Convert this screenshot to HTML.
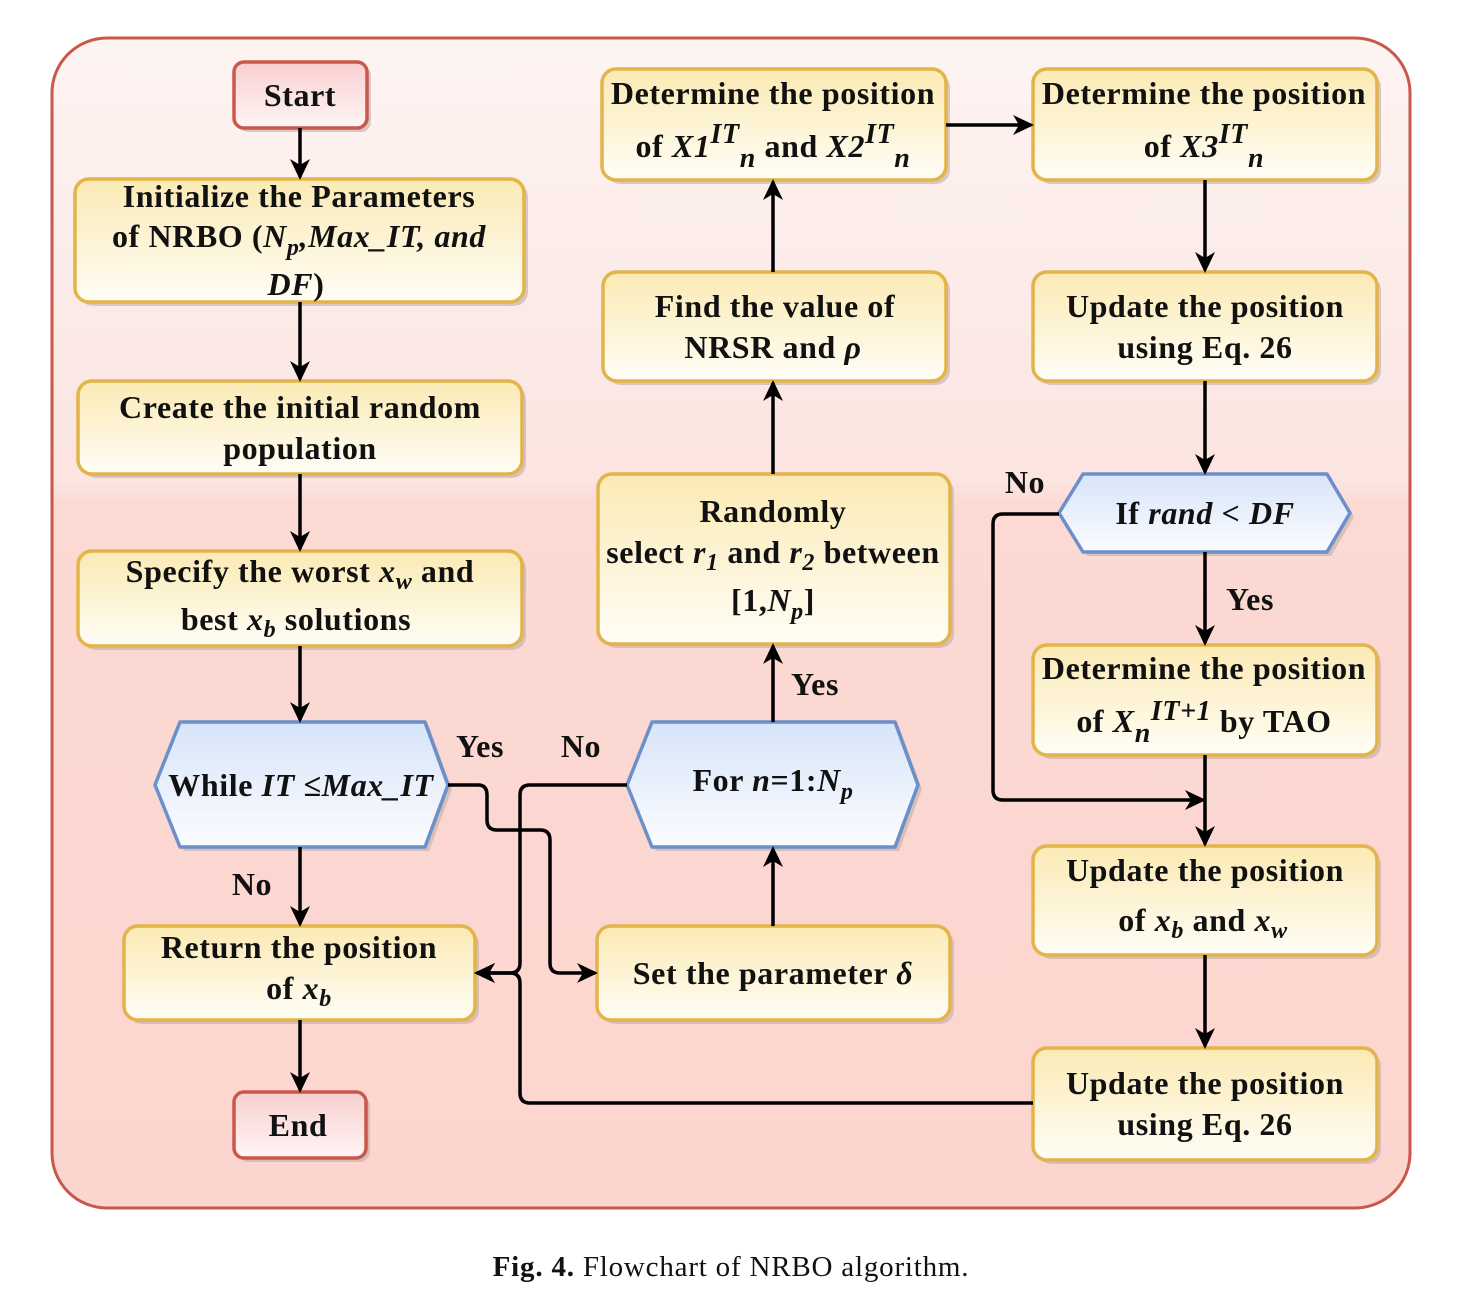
<!DOCTYPE html>
<html><head><meta charset="utf-8"><style>
html,body{margin:0;padding:0;background:#fff}
svg{display:block}
text{font-family:"Liberation Serif",serif;font-weight:bold;font-size:32px;letter-spacing:0.6px;fill:#111}
.i{font-style:italic}
</style></head><body>
<svg width="1465" height="1289" viewBox="0 0 1465 1289" xmlns="http://www.w3.org/2000/svg">
<defs>
<linearGradient id="bg" x1="0" y1="0" x2="0" y2="1">
<stop offset="0" stop-color="#fdf4f2"/><stop offset="0.38" stop-color="#fce4e0"/><stop offset="0.4" stop-color="#fcd9d3"/><stop offset="1" stop-color="#fdd5cf"/>
</linearGradient>
<linearGradient id="yl" x1="0" y1="0" x2="0" y2="1"><stop offset="0" stop-color="#fbeab4"/><stop offset="1" stop-color="#fffdf6"/></linearGradient>
<linearGradient id="bl" x1="0" y1="0" x2="0" y2="1"><stop offset="0" stop-color="#d7e4f9"/><stop offset="1" stop-color="#fbfcff"/></linearGradient>
<linearGradient id="rd" x1="0" y1="0" x2="0" y2="1"><stop offset="0" stop-color="#f8cfcf"/><stop offset="1" stop-color="#fff5f5"/></linearGradient>
<marker id="a" markerWidth="22" markerHeight="22" refX="18" refY="11" orient="auto" markerUnits="userSpaceOnUse" viewBox="0 0 22 22"><path d="M0,1 L21,11 L0,21 L6,11z" fill="#000"/></marker>
</defs>
<rect x="52" y="38" width="1358" height="1170" rx="55" fill="url(#bg)" stroke="#c9574c" stroke-width="3"/>
<g fill="#b9a9a4" opacity="0.55">
<rect x="238" y="66" width="133" height="66" rx="10"/><rect x="238" y="1096" width="132" height="66" rx="10"/>
<rect x="79" y="183" width="449" height="123" rx="14"/><rect x="82" y="385" width="444" height="93" rx="14"/><rect x="82" y="555" width="444" height="95" rx="14"/><rect x="128" y="930" width="351" height="94" rx="14"/>
<rect x="606" y="73" width="344" height="111" rx="14"/><rect x="607" y="276" width="343" height="109" rx="14"/><rect x="602" y="478" width="352" height="170" rx="14"/><rect x="601" y="930" width="353" height="94" rx="14"/>
<rect x="1037" y="73" width="344" height="111" rx="14"/><rect x="1037" y="276" width="344" height="109" rx="14"/><rect x="1037" y="649" width="344" height="110" rx="14"/><rect x="1037" y="850" width="344" height="109" rx="14"/><rect x="1037" y="1052" width="344" height="112" rx="14"/>
<path d="M184,726 L429,726 L452,789 L429,851 L184,851 L159,789Z"/><path d="M656,726 L899,726 L922,789 L899,851 L656,851 L631,789Z"/><path d="M1087,478 L1331,478 L1354,517 L1331,556 L1087,556 L1063,517Z"/>
</g>
<g stroke="#e2b44a" stroke-width="3.5" fill="url(#yl)">
<rect x="75" y="179" width="449" height="123" rx="14"/><rect x="78" y="381" width="444" height="93" rx="14"/><rect x="78" y="551" width="444" height="95" rx="14"/><rect x="124" y="926" width="351" height="94" rx="14"/>
<rect x="602" y="69" width="344" height="111" rx="14"/><rect x="603" y="272" width="343" height="109" rx="14"/><rect x="598" y="474" width="352" height="170" rx="14"/><rect x="597" y="926" width="353" height="94" rx="14"/>
<rect x="1033" y="69" width="344" height="111" rx="14"/><rect x="1033" y="272" width="344" height="109" rx="14"/><rect x="1033" y="645" width="344" height="110" rx="14"/><rect x="1033" y="846" width="344" height="109" rx="14"/><rect x="1033" y="1048" width="344" height="112" rx="14"/>
</g>
<g stroke="#c9574c" stroke-width="3.5" fill="url(#rd)">
<rect x="234" y="62" width="133" height="66" rx="10"/><rect x="234" y="1092" width="132" height="66" rx="10"/>
</g>
<g stroke="#6b8fc9" stroke-width="3.5" fill="url(#bl)" stroke-linejoin="round">
<path d="M180,722 L425,722 L448,785 L425,847 L180,847 L155,785Z"/>
<path d="M652,722 L895,722 L918,785 L895,847 L652,847 L627,785Z"/>
<path d="M1083,474 L1327,474 L1350,513 L1327,552 L1083,552 L1059,513Z"/>
</g>
<g stroke="#000" stroke-width="3.5" fill="none" marker-end="url(#a)" stroke-linejoin="round">
<path d="M300,128 V177"/><path d="M300,302 V379"/><path d="M300,474 V549"/><path d="M300,646 V720"/><path d="M300,847 V924"/><path d="M300,1020 V1090"/>
<path d="M773,926 V849"/><path d="M773,722 V646"/><path d="M773,474 V383"/><path d="M773,272 V182"/><path d="M946,125 H1031"/>
<path d="M1205,180 V270"/><path d="M1205,381 V472"/><path d="M1205,552 V643"/><path d="M1205,755 V844"/>
<path d="M1059,514 H1003 Q993,514 993,524 V790 Q993,800 1003,800 H1203"/>
<path d="M1205,955 V1046"/>
<path d="M1033,1103 H530 Q520,1103 520,1093 V983 Q520,973 510,973 H477"/>
<path d="M627,785 H530 Q520,785 520,795 V963 Q520,973 510,973 H477"/>
<path d="M448,785 H478 Q487,785 487,795 V820 Q487,830 497,830 H540 Q550,830 550,840 V963 Q550,973 560,973 H595"/>
</g>
<text x="300" y="106" text-anchor="middle">Start</text>
<text x="298" y="1136" text-anchor="middle">End</text>
<text x="299" y="207" text-anchor="middle">Initialize the Parameters</text>
<text x="299" y="247" text-anchor="middle">of NRBO (<tspan class="i">N<tspan dy="8" font-size="24">p</tspan><tspan dy="-8">,Max_IT, and</tspan></tspan></text>
<text x="296" y="295" text-anchor="middle"><tspan class="i">DF</tspan>)</text>
<text x="300" y="418" text-anchor="middle">Create the initial random</text>
<text x="300" y="459" text-anchor="middle">population</text>
<text x="300" y="582" text-anchor="middle">Specify the worst <tspan class="i">x<tspan dy="7" font-size="24">w</tspan></tspan><tspan dy="-7"> and</tspan></text>
<text x="296" y="630" text-anchor="middle">best <tspan class="i">x<tspan dy="7" font-size="24">b</tspan></tspan><tspan dy="-7"> solutions</tspan></text>
<text x="301" y="796" text-anchor="middle">While <tspan class="i">IT</tspan> ≤<tspan class="i">Max_IT</tspan></text>
<text x="299" y="958" text-anchor="middle">Return the position</text>
<text x="299" y="999" text-anchor="middle">of <tspan class="i">x<tspan dy="7" font-size="24">b</tspan></tspan></text>
<text x="773" y="104" text-anchor="middle">Determine the position</text>
<text x="773" y="157" text-anchor="middle">of <tspan class="i">X1<tspan dy="-14" font-size="28">IT</tspan><tspan dy="24" font-size="28">n</tspan></tspan><tspan dy="-10"> and </tspan><tspan class="i">X2<tspan dy="-14" font-size="28">IT</tspan><tspan dy="24" font-size="28">n</tspan></tspan></text>
<text x="775" y="317" text-anchor="middle">Find the value of</text>
<text x="773" y="358" text-anchor="middle">NRSR and <tspan class="i">ρ</tspan></text>
<text x="773" y="522" text-anchor="middle">Randomly</text>
<text x="773" y="563" text-anchor="middle">select <tspan class="i">r<tspan dy="7" font-size="24">1</tspan></tspan><tspan dy="-7"> and </tspan><tspan class="i">r<tspan dy="7" font-size="24">2</tspan></tspan><tspan dy="-7"> between</tspan></text>
<text x="773" y="611" text-anchor="middle">[1,<tspan class="i">N<tspan dy="8" font-size="24">p</tspan></tspan><tspan dy="-8">]</tspan></text>
<text x="773" y="791" text-anchor="middle">For <tspan class="i">n</tspan>=1:<tspan class="i">N<tspan dy="8" font-size="24">p</tspan></tspan></text>
<text x="773" y="984" text-anchor="middle">Set the parameter <tspan class="i">δ</tspan></text>
<text x="1204" y="104" text-anchor="middle">Determine the position</text>
<text x="1204" y="157" text-anchor="middle">of <tspan class="i">X3<tspan dy="-14" font-size="28">IT</tspan><tspan dy="24" font-size="28">n</tspan></tspan></text>
<text x="1205" y="317" text-anchor="middle">Update the position</text>
<text x="1205" y="358" text-anchor="middle">using Eq. 26</text>
<text x="1205" y="524" text-anchor="middle">If <tspan class="i">rand</tspan> &lt; <tspan class="i">DF</tspan></text>
<text x="1204" y="679" text-anchor="middle">Determine the position</text>
<text x="1204" y="732" text-anchor="middle">of <tspan class="i">X<tspan dy="10" font-size="28">n</tspan><tspan dy="-22" font-size="28">IT+1</tspan></tspan><tspan dy="12"> by TAO</tspan></text>
<text x="1205" y="881" text-anchor="middle">Update the position</text>
<text x="1203" y="931" text-anchor="middle">of <tspan class="i">x<tspan dy="7" font-size="24">b</tspan></tspan><tspan dy="-7"> and </tspan><tspan class="i">x<tspan dy="7" font-size="24">w</tspan></tspan></text>
<text x="1205" y="1094" text-anchor="middle">Update the position</text>
<text x="1205" y="1135" text-anchor="middle">using Eq. 26</text>
<text x="480" y="757" text-anchor="middle">Yes</text>
<text x="581" y="757" text-anchor="middle">No</text>
<text x="252" y="895" text-anchor="middle">No</text>
<text x="815" y="695" text-anchor="middle">Yes</text>
<text x="1250" y="610" text-anchor="middle">Yes</text>
<text x="1025" y="493" text-anchor="middle">No</text>
<text x="731" y="1276" text-anchor="middle" style="font-size:29px;font-weight:normal;letter-spacing:0.8px"><tspan font-weight="bold">Fig. 4.</tspan>  Flowchart of NRBO algorithm.</text>
</svg>
</body></html>
